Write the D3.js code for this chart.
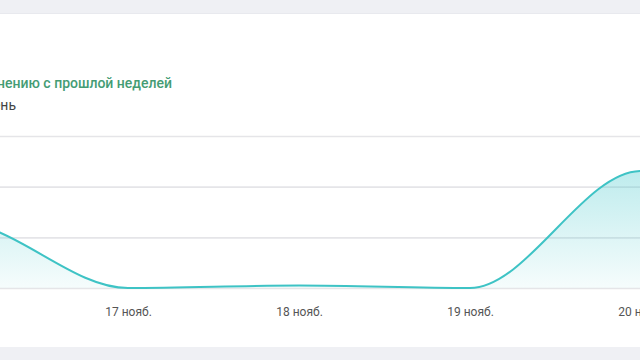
<!DOCTYPE html>
<html><head><meta charset="utf-8">
<script src="https://cdn.jsdelivr.net/npm/d3@7/dist/d3.min.js"></script>
<style>html,body{margin:0;padding:0;background:#eff0f4;}svg{display:block;}</style>
</head><body>
<svg id="c" width="640" height="360"></svg>
<script>
const categories = ["15 нояб.","16 нояб.","17 нояб.","18 нояб.","19 нояб.","20 нояб.","21 нояб."];
const values = [0.8, 1.3, 0.0, 0.05, 0.0, 2.31, 1.2];
const gridTicks = [0, 1, 2, 3];
const subtitle = "по сравнению с прошлой неделей";
const seriesLabel = "в день";

const svg = d3.select("#c");
svg.append("rect").attr("x",0).attr("y",0).attr("width",640).attr("height",360).attr("fill","#eff0f4");
svg.append("rect").attr("x",0).attr("y",13).attr("width",640).attr("height",1).attr("fill","#e8e9ee");
svg.append("rect").attr("x",0).attr("y",14).attr("width",640).attr("height",333).attr("fill","#ffffff");

const x = d3.scalePoint().domain(categories).range([-214, 812]);
const y = d3.scaleLinear().domain([0,3]).range([288,136]);

// gridlines
const grid = svg.append("g")
  .call(d3.axisLeft(y).tickValues(gridTicks).tickSize(-700).tickFormat(""));
grid.select(".domain").remove();
grid.selectAll("line").attr("stroke","#e5e5e8").attr("stroke-width",1.6);

const defs = svg.append("defs");
const grad = defs.append("linearGradient").attr("id","g").attr("gradientUnits","userSpaceOnUse")
  .attr("x1",0).attr("y1",y(2.3)).attr("x2",0).attr("y2",y(0));
grad.append("stop").attr("offset","0%").attr("stop-color","#46c8cc").attr("stop-opacity",0.35);
grad.append("stop").attr("offset","100%").attr("stop-color","#46c8cc").attr("stop-opacity",0.05);

const data = categories.map((c,i)=>({c, v: values[i]}));
const area = d3.area().x(d=>x(d.c)).y0(y(0)).y1(d=>y(d.v)).curve(d3.curveMonotoneX);
const line = d3.line().x(d=>x(d.c)).y(d=>y(d.v)).curve(d3.curveMonotoneX);
svg.append("path").datum(data).attr("d",area).attr("fill","url(#g)");
svg.append("path").datum(data).attr("d",line).attr("fill","none").attr("stroke","#3ec3c5").attr("stroke-width",2);

// x axis (only ticks whose label position falls inside the visible view)
const visibleTicks = categories.filter(c => x(c) > 0 && x(c) < 700);
const xa = svg.append("g").attr("transform","translate(0,305)")
  .call(d3.axisBottom(x).tickValues(visibleTicks).tickSize(0).tickPadding(0));
xa.select(".domain").remove();
xa.selectAll("text").attr("dy","0.95em").attr("fill","#555").style("font-family","Roboto, sans-serif").style("font-size","12px");

svg.append("text").attr("x",172).attr("y",88).attr("text-anchor","end")
  .style("font-family","Roboto, sans-serif").style("font-size","14px").style("font-weight",500)
  .attr("fill","#449c74").text(subtitle);
svg.append("text").attr("x",16).attr("y",110).attr("text-anchor","end")
  .style("font-family","Roboto, sans-serif").style("font-size","14px")
  .attr("fill","#444").text(seriesLabel);
</script>
</body></html>
